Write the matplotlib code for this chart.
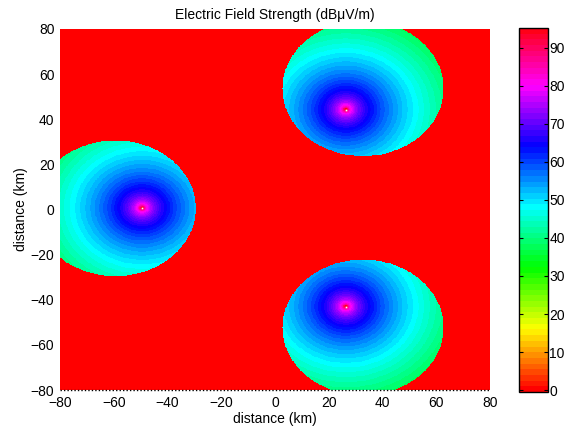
import numpy as np
import matplotlib
matplotlib.use("Agg")
import matplotlib.pyplot as plt
from matplotlib.colors import ListedColormap, Normalize, hsv_to_rgb

# ---- data ----
tx_x = [-49.5, 26.4, 26.4]          # transmitter x (km)
tx_y = [0.5, 44.1, -43.1]           # transmitter y (km)
cov_x = [-59.5, 32.8, 32.8]         # coverage area centre x (km)
cov_y = [0.3, 53.4, -52.4]          # coverage area centre y (km)
cov_r = [30.0, 30.0, 30.0]          # coverage area radius (km)
E_1km = 86.8                        # field strength at 1 km (dBuV/m)
atten = 0.40                        # extra attenuation (dB/km)
cbar_ticks = [0, 10, 20, 30, 40, 50, 60, 70, 80, 90]
clim = (-0.5, 95.2)
xticks = [-80, -60, -40, -20, 0, 20, 40, 60, 80]
yticks = [-80, -60, -40, -20, 0, 20, 40, 60, 80]

plt.rcParams['font.family'] = ['Liberation Sans', 'DejaVu Sans']

# field on grid
xs = np.linspace(-80, 80, 801)
ys = np.linspace(-80, 80, 801)
X, Y = np.meshgrid(xs, ys)
F = np.zeros_like(X)
for tx, ty, cx, cy, r in zip(tx_x, tx_y, cov_x, cov_y, cov_r):
    d = np.hypot(X - tx, Y - ty)
    d = np.maximum(d, 0.05)
    E = E_1km - 20 * np.log10(d) - atten * d
    inside = np.hypot(X - cx, Y - cy) <= r
    F = np.where(inside, np.maximum(F, E), F)

# MATLAB-like hsv(64)
h = np.arange(64) / 64.0
cmap = ListedColormap(hsv_to_rgb(np.stack([h, np.ones(64), np.ones(64)], axis=1)))
norm = Normalize(vmin=clim[0], vmax=clim[1], clip=True)

fig = plt.figure(figsize=(5.70, 4.36), dpi=100)
ax = fig.add_axes([60/570, (436-390)/436, 430/570, 361/436])
im = ax.imshow(F, extent=(-80, 80, -80, 80), origin='lower', cmap=cmap, norm=norm,
               interpolation='nearest', aspect='auto')
ax.plot(tx_x, tx_y, 's', color='white', markersize=1.2, markeredgewidth=0)
ax.set_xlim(-80, 80)
ax.set_ylim(-80, 80)
ax.set_xticks(xticks)
ax.set_yticks(yticks)
for s in ax.spines.values():
    s.set_visible(False)
ax.tick_params(length=0, labelsize=10, pad=4, colors='black')
ax.plot([-80, 80], [-80, -80], color='black', lw=1, ls=(0, (1, 1.5)), clip_on=False)
ax.set_title('Electric Field Strength (dB\u03bcV/m)', fontsize=10, pad=7)
ax.set_xlabel('distance (km)', fontsize=10, labelpad=2)
ax.set_ylabel('distance (km)', fontsize=10, labelpad=2)

cax = fig.add_axes([519/570, (436-392)/436, 29/570, 364/436])
cb = fig.colorbar(im, cax=cax, ticks=cbar_ticks)
cb.outline.set_linewidth(1)
cb.outline.set_edgecolor('black')
cax.tick_params(direction='in', left=True, right=True, length=3, labelsize=10, pad=1)

fig.savefig('out.png', dpi=100)
